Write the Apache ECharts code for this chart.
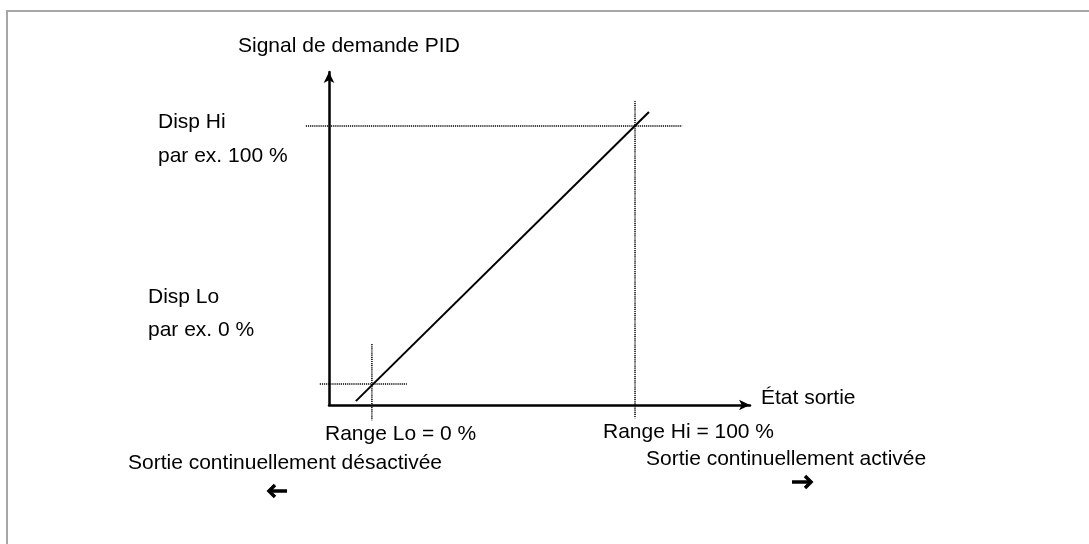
<!DOCTYPE html>
<html>
<head>
<meta charset="utf-8">
<script src="https://cdn.jsdelivr.net/npm/echarts@6/dist/echarts.min.js"></script>
<style>
  html, body { margin: 0; padding: 0; background: #fff; }
  #chart { width: 1089px; height: 544px; }
</style>
</head>
<body>
<div id="chart"></div>
<script>
// axis range in % (Range Lo/Hi on x, Disp Lo/Hi on y)
var xRange = [-16.3, 143.7];
var yRange = [-8.1, 120.9];

// the PID demand line
var demandLine = [[-6.1, -6.6], [105.3, 105.4]];

// dotted guide lines
var hiHorizontal = [[-25.1, 100], [117.9, 100]];
var hiVertical = [[100, 109.7], [100, -13.2]];
var loHorizontal = [[-19.8, 0], [13.3, 0]];
var loVertical = [[0, 15.5], [0, -14]];

var font = 'Liberation Sans, Arial, sans-serif';
var W = 1089, H = 544;
var plot = { left: 329, right: 339, top: 72, bottom: 139 };

// the guide lines stick out past the axes, so the data sits on a full-page grid
// with the same scale as the visible axes
var kx = (W - plot.left - plot.right) / (xRange[1] - xRange[0]);
var ky = (H - plot.top - plot.bottom) / (yRange[1] - yRange[0]);
var xFull = [xRange[0] - plot.left / kx, xRange[1] + plot.right / kx];
var yFull = [yRange[0] - plot.bottom / ky, yRange[1] + plot.top / ky];

function dotted(data) {
    return {
        type: 'line', xAxisIndex: 1, yAxisIndex: 1,
        data: data, symbol: 'none', silent: true,
        lineStyle: { color: '#000', width: 1.5, type: [1.2, 0.9] }
    };
}

function label(text, x, y) {
    return {
        type: 'text', silent: true,
        style: { text: text, x: x, y: y, fill: '#000', font: '21px ' + font, textVerticalAlign: 'middle' }
    };
}

function arrow(x0, x1, y, dir) {
    var tip = dir > 0 ? x1 : x0;
    var back = tip - dir * 6;
    return {
        type: 'group', silent: true,
        children: [
            { type: 'line', shape: { x1: x0, y1: y, x2: x1, y2: y }, style: { stroke: '#000', lineWidth: 3.5 } },
            { type: 'polyline', shape: { points: [[back, y - 6], [tip, y], [back, y + 6]] }, style: { stroke: '#000', lineWidth: 3.5, fill: 'none' } }
        ]
    };
}

var axisLine = { onZero: false, symbol: ['none', 'arrow'], symbolSize: [8, 11], lineStyle: { color: '#000', width: 2.5 } };
var hidden = { axisLine: { show: false }, axisTick: { show: false }, axisLabel: { show: false }, splitLine: { show: false } };

var chart = echarts.init(document.getElementById('chart'));
chart.setOption({
    animation: false,
    grid: [
        { left: plot.left, right: plot.right, top: plot.top, bottom: plot.bottom },
        { left: 0, right: 0, top: 0, bottom: 0 }
    ],
    xAxis: [
        {
            gridIndex: 0, type: 'value', min: xRange[0], max: xRange[1],
            axisLine: axisLine, axisTick: { show: false }, axisLabel: { show: false }, splitLine: { show: false }
        },
        Object.assign({ gridIndex: 1, type: 'value', min: xFull[0], max: xFull[1] }, hidden)
    ],
    yAxis: [
        {
            gridIndex: 0, type: 'value', min: yRange[0], max: yRange[1],
            axisLine: axisLine, axisTick: { show: false }, axisLabel: { show: false }, splitLine: { show: false }
        },
        Object.assign({ gridIndex: 1, type: 'value', min: yFull[0], max: yFull[1] }, hidden)
    ],
    series: [
        dotted(hiHorizontal),
        dotted(hiVertical),
        dotted(loHorizontal),
        dotted(loVertical),
        {
            type: 'line', xAxisIndex: 1, yAxisIndex: 1,
            data: demandLine, symbol: 'none', silent: true,
            lineStyle: { color: '#000', width: 2 }
        }
    ],
    graphic: [
        { type: 'rect', shape: { x: 7, y: 11, width: 1200, height: 700 }, style: { fill: 'none', stroke: '#a6a6a6', lineWidth: 2 }, silent: true, z: -1 },
        label('Signal de demande PID', 238, 46),
        label('Disp Hi', 158, 122),
        label('par ex. 100 %', 158, 156),
        label('Disp Lo', 148, 297),
        label('par ex. 0 %', 148, 330),
        label('État sortie', 761, 398),
        label('Range Lo = 0 %', 325, 434),
        label('Range Hi = 100 %', 603, 432),
        label('Sortie continuellement désactivée', 128, 463),
        label('Sortie continuellement activée', 646, 459),
        arrow(269, 287, 491, -1),
        arrow(792, 811, 482, 1)
    ]
});
</script>
</body>
</html>
